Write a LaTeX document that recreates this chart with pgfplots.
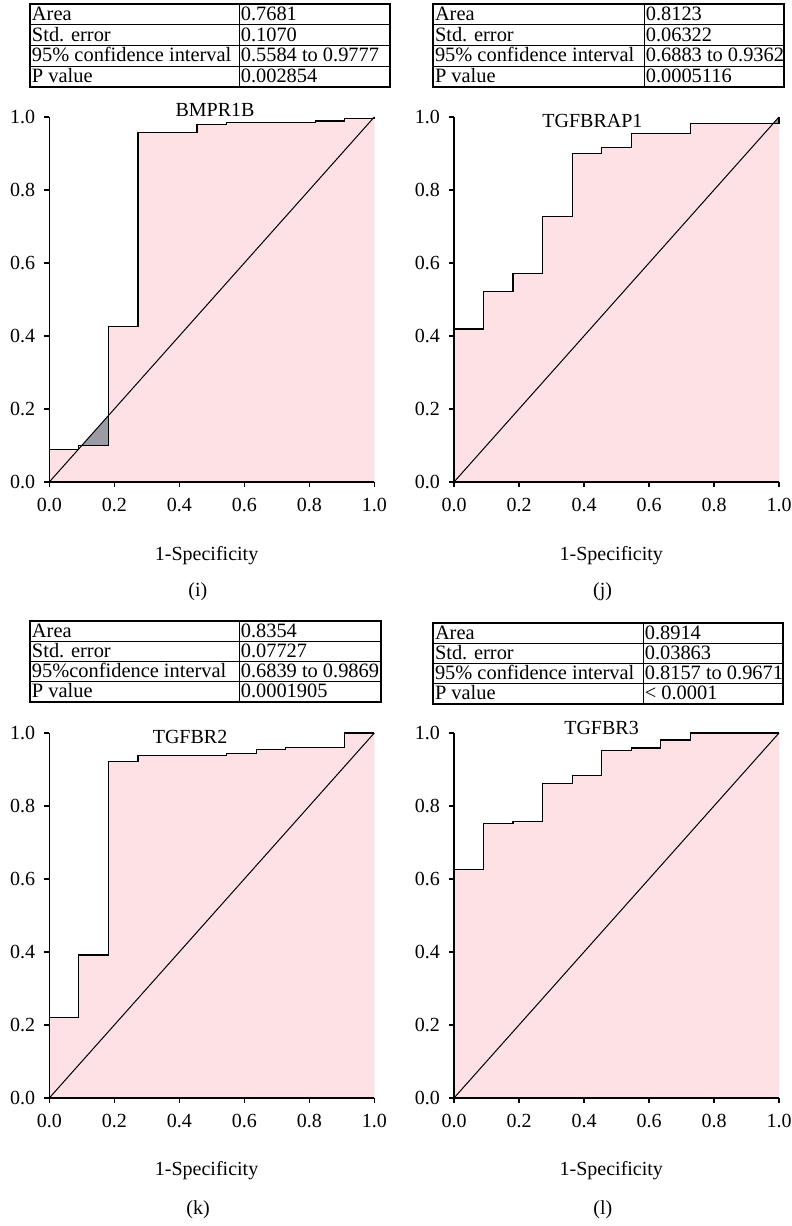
\documentclass[border=0pt]{standalone}
\usepackage{fontspec}
\setmainfont{Liberation Serif}
\usepackage{pgfplots}
\pgfplotsset{compat=1.18}
\definecolor{rocpink}{RGB}{253,225,228}
\definecolor{rocgrey}{RGB}{155,155,163}
\pgfplotsset{roc/.style={
  scale only axis, width=162.5pt, height=182.5pt,
  xmin=0, xmax=1, ymin=0, ymax=1,
  axis lines=left, axis line style={-, line width=0.6pt, black},
  xtick={0,0.2,0.4,0.6,0.8,1}, ytick={0,0.2,0.4,0.6,0.8,1},
  tick align=outside, major tick length=2.5pt,
  tick style={black, line width=0.6pt},
  /pgf/number format/fixed, /pgf/number format/fixed zerofill,
  /pgf/number format/precision=1, /pgf/number format/assume math mode=true,
  ticklabel style={font=\fontsize{10}{12}\selectfont},
  xticklabel style={yshift=-2pt},
  yticklabel style={xshift=-1pt},
  clip=false, axis on top,
}}
\newcommand{\tabgrid}[5]{%
  \draw[line width=0.6pt] (#1,#4) rectangle (#3,#5);
  \draw[line width=0.5pt] (#2,#4) -- (#2,#5);
  \foreach \k in {1,2,3}{\draw[line width=0.5pt] (#1,{#4+\k*(#5-#4)/4}) -- (#3,{#4+\k*(#5-#4)/4});}
}
\newcommand{\tabrow}[5]{%
  \node[anchor=base west, inner sep=0pt, font=\fontsize{10.2}{12}\selectfont] at (#1+1.6,#3) {#4};
  \node[anchor=base west, inner sep=0pt, font=\fontsize{10.2}{12}\selectfont] at (#2+1.4,#3) {#5};
}
\begin{document}
\begin{tikzpicture}
\useasboundingbox (0,0) rectangle (396pt,613pt);
\begin{scope}[x=0.5pt, y=-0.5pt, yshift=613pt]
% table i
\tabgrid{30}{239}{390}{4}{87}
\tabrow{30}{239}{20.5}{Area}{0.7681}
\tabrow{30}{239}{41.3}{Std. error}{0.1070}
\tabrow{30}{239}{62.0}{95\% confidence interval}{0.5584 to 0.9777}
\tabrow{30}{239}{82.8}{P value}{0.002854}
% table j
\tabgrid{433}{644}{784}{4}{87}
\tabrow{433}{644}{20.5}{Area}{0.8123}
\tabrow{433}{644}{41.3}{Std. error}{0.06322}
\tabrow{433}{644}{62.0}{95\% confidence interval}{0.6883 to 0.9362}
\tabrow{433}{644}{82.8}{P value}{0.0005116}
% table k
\tabgrid{30}{239}{381}{621}{702}
\tabrow{30}{239}{637.2}{Area}{0.8354}
\tabrow{30}{239}{657.5}{Std. error}{0.07727}
\tabrow{30}{239}{677.7}{95\%confidence interval}{0.6839 to 0.9869}
\tabrow{30}{239}{698.0}{P value}{0.0001905}
% table l
\tabgrid{433}{643}{783}{623}{704}
\tabrow{433}{643}{639.2}{Area}{0.8914}
\tabrow{433}{643}{659.5}{Std. error}{0.03863}
\tabrow{433}{643}{679.7}{95\% confidence interval}{0.8157 to 0.9671}
\tabrow{433}{643}{700.0}{P value}{< 0.0001}
\end{scope}

% (i) BMPR1B
\begin{axis}[roc, at={(24.65pt,372pt)}, anchor=south west]
\addplot[draw=none, fill=rocpink] coordinates {(0,0) (0,0.088) (0.0909,0.088) (0.0909,0.100) (0.1818,0.100) (0.1818,0.425) (0.2727,0.425) (0.2727,0.958) (0.4545,0.958) (0.4545,0.979) (0.5455,0.979) (0.5455,0.984) (0.8182,0.984) (0.8182,0.989) (0.9091,0.989) (0.9091,0.995) (1,0.995) (1,1)} \closedcycle;
\addplot[draw=none, fill=rocgrey] coordinates {(0.100,0.100) (0.1818,0.100) (0.1818,0.1818)} -- cycle;
\addplot[black, line width=0.5pt] coordinates {(0,0) (1,1)};
\addplot[black, line width=0.6pt] coordinates {(0,0) (0,0.088) (0.0909,0.088) (0.0909,0.100) (0.1818,0.100) (0.1818,0.425) (0.2727,0.425) (0.2727,0.958) (0.4545,0.958) (0.4545,0.979) (0.5455,0.979) (0.5455,0.984) (0.8182,0.984) (0.8182,0.989) (0.9091,0.989) (0.9091,0.995) (1,0.995) (1,1)};
\node[font=\fontsize{10}{12}\selectfont] at (axis cs:0.51,1.019) {BMPR1B};
\node[anchor=base, font=\fontsize{10}{12}\selectfont] at (axis cs:0.484,-0.214) {1-Specificity};
\node[font=\fontsize{10}{12}\selectfont] at (axis cs:0.457,-0.30) {(i)};
\end{axis}

% (j) TGFBRAP1
\begin{axis}[roc, at={(227pt,372pt)}, anchor=south west]
\addplot[draw=none, fill=rocpink] coordinates {(0,0) (0,0.419) (0.0909,0.419) (0.0909,0.521) (0.1818,0.521) (0.1818,0.571) (0.2727,0.571) (0.2727,0.727) (0.3636,0.727) (0.3636,0.900) (0.4545,0.900) (0.4545,0.917) (0.5455,0.917) (0.5455,0.954) (0.7273,0.954) (0.7273,0.982) (1,0.982) (1,1)} \closedcycle;
\addplot[draw=none, fill=rocgrey] coordinates {(0.982,0.982) (1,0.982) (1,1)} -- cycle;
\addplot[black, line width=0.5pt] coordinates {(0,0) (1,1)};
\addplot[black, line width=0.6pt] coordinates {(0,0) (0,0.419) (0.0909,0.419) (0.0909,0.521) (0.1818,0.521) (0.1818,0.571) (0.2727,0.571) (0.2727,0.727) (0.3636,0.727) (0.3636,0.900) (0.4545,0.900) (0.4545,0.917) (0.5455,0.917) (0.5455,0.954) (0.7273,0.954) (0.7273,0.982) (1,0.982) (1,1)};
\node[font=\fontsize{10}{12}\selectfont] at (axis cs:0.426,0.989) {TGFBRAP1};
\node[anchor=base, font=\fontsize{10}{12}\selectfont] at (axis cs:0.484,-0.214) {1-Specificity};
\node[font=\fontsize{10}{12}\selectfont] at (axis cs:0.457,-0.30) {(j)};
\end{axis}

% (k) TGFBR2
\begin{axis}[roc, at={(24.65pt,64pt)}, anchor=south west]
\addplot[draw=none, fill=rocpink] coordinates {(0,0) (0,0.220) (0.0909,0.220) (0.0909,0.392) (0.1818,0.392) (0.1818,0.922) (0.2727,0.922) (0.2727,0.938) (0.5455,0.938) (0.5455,0.943) (0.6364,0.943) (0.6364,0.954) (0.7273,0.954) (0.7273,0.961) (0.9091,0.961) (0.9091,1.0) (1,1)} \closedcycle;
\addplot[black, line width=0.5pt] coordinates {(0,0) (1,1)};
\addplot[black, line width=0.6pt] coordinates {(0,0) (0,0.220) (0.0909,0.220) (0.0909,0.392) (0.1818,0.392) (0.1818,0.922) (0.2727,0.922) (0.2727,0.938) (0.5455,0.938) (0.5455,0.943) (0.6364,0.943) (0.6364,0.954) (0.7273,0.954) (0.7273,0.961) (0.9091,0.961) (0.9091,1.0) (1,1)};
\node[font=\fontsize{10}{12}\selectfont] at (axis cs:0.433,0.989) {TGFBR2};
\node[anchor=base, font=\fontsize{10}{12}\selectfont] at (axis cs:0.484,-0.213) {1-Specificity};
\node[font=\fontsize{10}{12}\selectfont] at (axis cs:0.458,-0.307) {(k)};
\end{axis}

% (l) TGFBR3
\begin{axis}[roc, at={(227pt,64pt)}, anchor=south west]
\addplot[draw=none, fill=rocpink] coordinates {(0,0) (0,0.627) (0.0909,0.627) (0.0909,0.753) (0.1818,0.753) (0.1818,0.757) (0.2727,0.757) (0.2727,0.861) (0.3636,0.861) (0.3636,0.884) (0.4545,0.884) (0.4545,0.953) (0.5455,0.953) (0.5455,0.959) (0.6364,0.959) (0.6364,0.981) (0.7273,0.981) (0.7273,1.0) (1,1)} \closedcycle;
\addplot[black, line width=0.5pt] coordinates {(0,0) (1,1)};
\addplot[black, line width=0.6pt] coordinates {(0,0) (0,0.627) (0.0909,0.627) (0.0909,0.753) (0.1818,0.753) (0.1818,0.757) (0.2727,0.757) (0.2727,0.861) (0.3636,0.861) (0.3636,0.884) (0.4545,0.884) (0.4545,0.953) (0.5455,0.953) (0.5455,0.959) (0.6364,0.959) (0.6364,0.981) (0.7273,0.981) (0.7273,1.0) (1,1)};
\node[font=\fontsize{10}{12}\selectfont] at (axis cs:0.454,1.014) {TGFBR3};
\node[anchor=base, font=\fontsize{10}{12}\selectfont] at (axis cs:0.484,-0.213) {1-Specificity};
\node[font=\fontsize{10}{12}\selectfont] at (axis cs:0.458,-0.307) {(l)};
\end{axis}
\end{tikzpicture}
\end{document}
